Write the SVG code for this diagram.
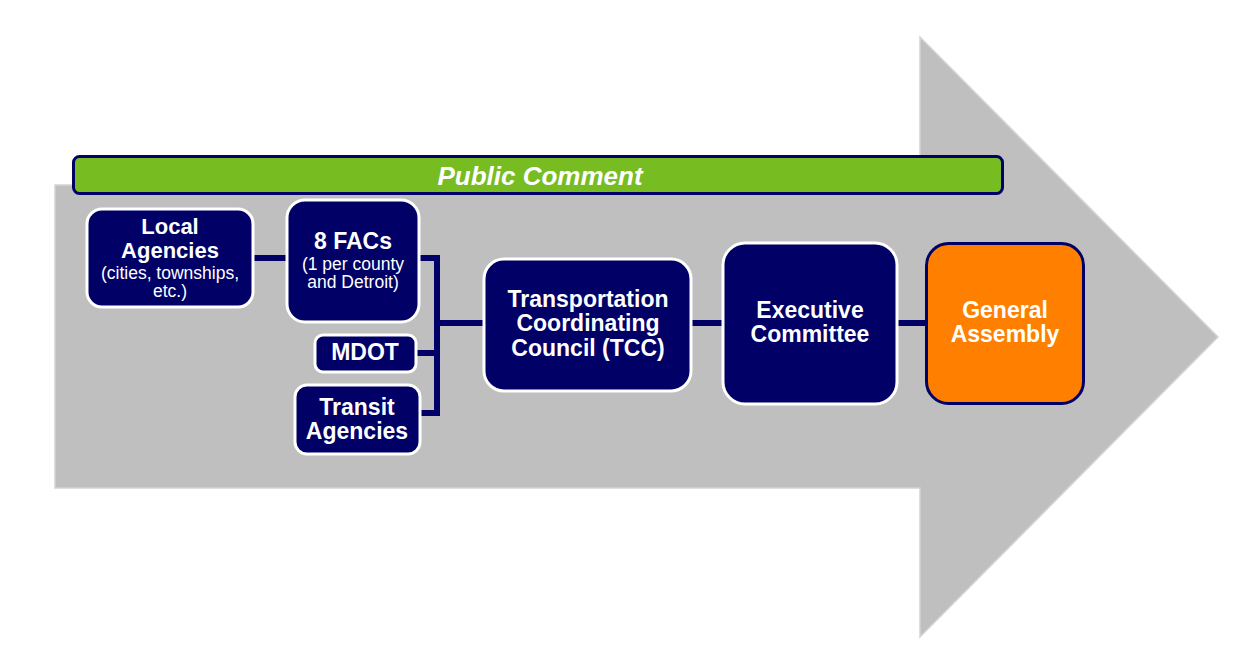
<svg xmlns="http://www.w3.org/2000/svg" width="1260" height="667" viewBox="0 0 1260 667">
<style>
.node{fill:#000066;stroke:#ffffff;stroke-width:3}
.t{font-family:"Liberation Sans",Arial,sans-serif;fill:#ffffff;text-anchor:middle}
.b{font-weight:bold;font-size:23px}
.s{font-size:17.5px}
.conn{stroke:#000066;stroke-width:6;fill:none}
</style>
<rect width="1260" height="667" fill="#ffffff"/>
<g id="arrow">
<polygon points="55,185 920,185 920,37 1218,337 920,637 920,488 55,488" fill="#bfbfbf" stroke="#d4d4d4" stroke-width="1.5"/>
</g>
<g id="public-comment">
<rect x="73.5" y="156.5" width="929" height="37" rx="6" fill="#77bc21" stroke="#000066" stroke-width="3"/>
<text class="t" x="540" y="185" font-size="26" font-weight="bold" font-style="italic">Public Comment</text>
</g>
<g id="connectors">
<line class="conn" x1="252" y1="258" x2="289" y2="258"/>
<polyline class="conn" points="418,258 437,258 437,413 419,413"/>
<line class="conn" x1="415" y1="353" x2="437" y2="353"/>
<line class="conn" x1="437" y1="323" x2="486" y2="323"/>
<line class="conn" x1="690" y1="323" x2="725" y2="323"/>
<line class="conn" x1="896" y1="323" x2="928" y2="323"/>
</g>
<g id="local-agencies">
<rect class="node" x="87" y="209" width="166" height="98" rx="15"/>
<text class="t b" x="170" y="234" font-size="22" style="font-size:22px">Local</text>
<text class="t b" x="170" y="258" style="font-size:22px">Agencies</text>
<text class="t s" x="170" y="279">(cities, townships,</text>
<text class="t s" x="170" y="297">etc.)</text>
</g>
<g id="facs">
<rect class="node" x="287" y="200" width="132" height="122" rx="18"/>
<text class="t b" x="353" y="249">8 FACs</text>
<text class="t s" x="353" y="270">(1 per county</text>
<text class="t s" x="353" y="288">and Detroit)</text>
</g>
<g id="mdot">
<rect class="node" x="315" y="335" width="101" height="37" rx="8"/>
<text class="t b" x="365" y="360">MDOT</text>
</g>
<g id="transit">
<rect class="node" x="295" y="385" width="125" height="69" rx="12"/>
<text class="t b" x="357" y="415">Transit</text>
<text class="t b" x="357" y="439">Agencies</text>
</g>
<g id="tcc">
<rect class="node" x="484" y="259" width="207" height="132" rx="20"/>
<text class="t b" x="588" y="307">Transportation</text>
<text class="t b" x="588" y="331">Coordinating</text>
<text class="t b" x="588" y="356">Council (TCC)</text>
</g>
<g id="executive">
<rect class="node" x="723" y="243" width="174" height="161" rx="22"/>
<text class="t b" x="810" y="318">Executive</text>
<text class="t b" x="810" y="342">Committee</text>
</g>
<g id="general-assembly">
<rect x="926.5" y="243.5" width="157" height="160" rx="22" fill="#ff8000" stroke="#000066" stroke-width="3"/>
<text class="t b" x="1005" y="318">General</text>
<text class="t b" x="1005" y="342">Assembly</text>
</g>
</svg>
